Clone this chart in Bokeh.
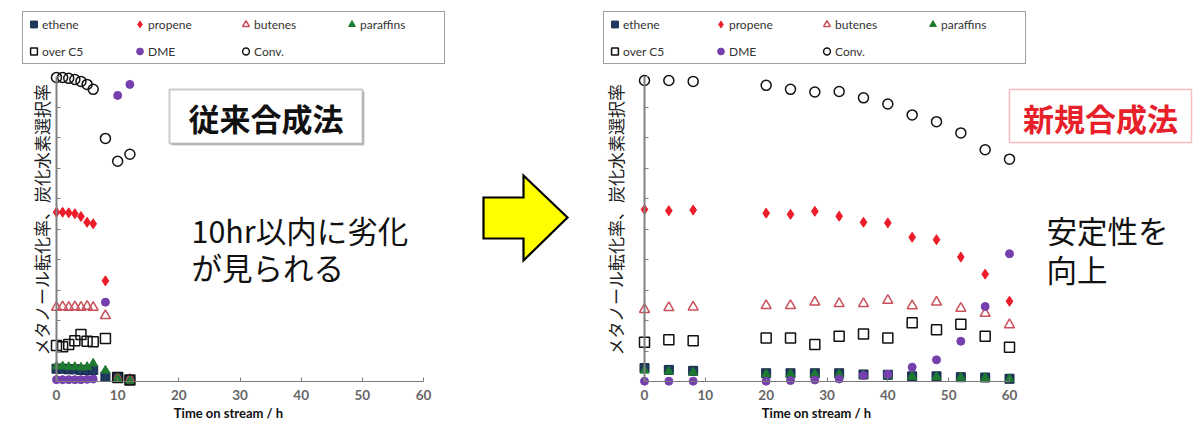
from bokeh.plotting import figure
from bokeh.layouts import row
from bokeh.models import Range1d, FixedTicker, Legend, LegendItem, Label, BoxAnnotation
from bokeh.embed import file_html
from bokeh.resources import INLINE

# ---------------- data ----------------
X_TICKS = [0, 10, 20, 30, 40, 50, 60]
Y_TICKS = [0, 10, 20, 30, 40, 50, 60, 70, 80, 90, 100]
SERIES = ["ethene", "propene", "butenes", "paraffins", "over C5", "DME", "Conv."]

Y_TITLE = "メタノール転化率、炭化水素選択率"
X_TITLE = "Time on stream / h"

# conventional synthesis (left)
old_time = [0, 1, 2, 3, 4, 5, 6, 8, 10, 12]
old_ethene = [4.2, 4.2, 4.0, 4.0, 3.8, 3.8, 3.8, 1.6, 1.3, 0.5]
old_propene = [55.5, 55.5, 55.3, 55.0, 54.1, 52.2, 51.7, 33.0, 1.2, 0.6]
old_butenes = [24.3, 24.5, 24.3, 24.5, 24.3, 24.6, 24.3, 21.6, 1.0, 0.6]
old_paraffins = [5.0, 5.0, 4.8, 4.8, 4.6, 4.8, 5.9, 3.6, 0.9, 0.3]
old_overC5 = [11.8, 11.4, 12.1, 13.4, 15.4, 13.2, 13.0, 14.1, 1.3, 0.5]
old_dme = [0.6, 0.6, 0.6, 0.6, 0.6, 0.7, 0.8, 26.0, 93.8, 97.4]
old_conv = [99.7, 99.7, 99.4, 99.0, 98.4, 97.4, 95.8, 79.7, 72.2, 74.5]

# new synthesis (right)
new_time = [0, 4, 8, 20, 24, 28, 32, 36, 40, 44, 48, 52, 56, 60]
new_ethene = [4.4, 3.8, 3.5, 2.7, 2.7, 2.7, 2.7, 2.3, 2.2, 1.7, 1.7, 1.4, 1.3, 0.9]
new_propene = [56.4, 56.0, 56.2, 55.2, 54.8, 55.8, 54.2, 52.2, 52.0, 47.3, 46.5, 40.8, 35.2, 26.3]
new_butenes = [23.6, 24.2, 24.4, 24.9, 24.9, 26.0, 25.5, 25.5, 26.6, 24.8, 26.0, 24.0, 22.3, 18.6]
new_paraffins = [3.6, 3.3, 3.0, 2.4, 2.4, 2.4, 2.3, 2.0, 2.0, 1.6, 1.5, 1.3, 1.2, 0.8]
new_overC5 = [12.9, 13.7, 13.4, 14.3, 14.3, 12.1, 14.8, 15.6, 14.3, 19.3, 17.0, 18.8, 14.8, 11.2]
new_dme = [0.1, 0.1, 0.1, 0.1, 0.3, 0.5, 0.8, 2.0, 2.4, 4.7, 7.1, 13.2, 24.6, 41.9]
new_conv = [98.7, 98.7, 98.4, 97.1, 95.8, 94.9, 95.1, 93.0, 91.0, 87.4, 85.2, 81.5, 76.0, 72.9]

old_values = [old_ethene, old_propene, old_butenes, old_paraffins, old_overC5, old_dme, old_conv]
new_values = [new_ethene, new_propene, new_butenes, new_paraffins, new_overC5, new_dme, new_conv]

# ---------------- styles ----------------
STYLES = {
    "ethene": dict(marker="square", size=9, fill_color="#1f3a60", line_color="#142845", line_width=1),
    "propene": dict(marker="diamond", size=10, fill_color="#ec1c2a", line_color="#ec1c2a", line_width=1),
    "butenes": dict(marker="triangle", size=10, fill_color=None, line_color="#c9505a", line_width=1.5),
    "paraffins": dict(marker="triangle", size=9, fill_color="#1d7a30", line_color="#1d7a30", line_width=1),
    "over C5": dict(marker="square", size=10, fill_color=None, line_color="#111111", line_width=1.5),
    "DME": dict(marker="circle", size=8, fill_color="#7540ad", line_color="#7540ad", line_width=1),
    "Conv.": dict(marker="circle", size=10, fill_color=None, line_color="#111111", line_width=1.5),
}

H = 430           # canvas height (page has no margin in this template)
TOP_REF = 0
Y0_REF, Y100_REF = 381, 76
FONT_CJK = "Noto Sans CJK JP"
FONT_LAT = "Lato"


def make_panel(t, values, fig_left_ref, width, x0_ref, x60_ref, legend_left_ref, ylabel_x_ref,
               title_box, title_color, title_line_w, title_text, note_lines, note_left_ref, note_ys):
    sx = (x60_ref - x0_ref) / 60.0
    sy = (Y0_REF - Y100_REF) / 100.0

    def fx(rx):
        return (rx - x0_ref) / sx

    def fy(ry):
        return (Y0_REF - ry) / sy

    p = figure(width=width, height=H, output_backend="svg", toolbar_location=None,
               x_range=Range1d(fx(fig_left_ref), fx(fig_left_ref + width)),
               y_range=Range1d(fy(TOP_REF + H), fy(TOP_REF)),
               min_border=0, min_border_left=0, min_border_right=0,
               min_border_top=0, min_border_bottom=0)
    p.outline_line_color = None
    p.grid.visible = False
    p.background_fill_color = "white"

    # axes fixed at the origin
    p.xaxis.fixed_location = 0
    p.xaxis.bounds = (0, 60)
    p.xaxis.ticker = FixedTicker(ticks=X_TICKS)
    p.xaxis.minor_tick_line_color = None
    p.xaxis.major_tick_in = 4
    p.xaxis.major_tick_out = 0
    p.xaxis.axis_line_color = "#7a7a7a"
    p.xaxis.major_tick_line_color = "#7a7a7a"
    p.xaxis.major_label_standoff = 8
    p.xaxis.major_label_text_font = FONT_LAT
    p.xaxis.major_label_text_font_style = "bold"
    p.xaxis.major_label_text_font_size = "13.5px"
    p.xaxis.major_label_text_color = "#666666"

    p.yaxis.fixed_location = 0
    p.yaxis.bounds = (0, 100)
    p.yaxis.ticker = FixedTicker(ticks=Y_TICKS)
    p.yaxis.minor_tick_line_color = None
    p.yaxis.major_tick_in = 4
    p.yaxis.major_tick_out = 0
    p.yaxis.axis_line_color = "#808080"
    p.yaxis.axis_line_width = 2
    p.yaxis.major_tick_line_color = "#808080"
    p.yaxis.major_label_overrides = {v: "" for v in Y_TICKS}

    renderers = []
    for name, vals in zip(SERIES, values):
        r = p.scatter(t, vals, **STYLES[name])
        renderers.append((name, r))

    legend = Legend(items=[LegendItem(label=n, renderers=[r]) for n, r in renderers],
                    orientation="horizontal", ncols=4,
                    location=(legend_left_ref - fig_left_ref, TOP_REF + H - 64),
                    padding=2, spacing=7, glyph_width=17, glyph_height=20,
                    label_standoff=0, label_width=82, label_height=20,
                    label_text_font=FONT_LAT, label_text_font_size="12px",
                    label_text_color="#333333",
                    border_line_color="#404040", border_line_width=1.5,
                    background_fill_color="white", background_fill_alpha=1.0)
    p.add_layout(legend, "center")

    # axis titles
    p.add_layout(Label(x=fx(ylabel_x_ref), y=fy(219), text=Y_TITLE, angle=90, angle_units="deg",
                       text_align="center", text_baseline="middle", text_font=FONT_CJK,
                       text_font_size="17px", text_color="#222222"))
    p.add_layout(Label(x=fx(x0_ref + 172), y=fy(412), text=X_TITLE, text_align="center",
                       text_baseline="middle", text_font=FONT_LAT, text_font_style="bold",
                       text_font_size="13px", text_color="#111111"))

    # title box
    l, r_, tp, bt = title_box
    if title_color == "#111111":
        p.add_layout(BoxAnnotation(left=fx(l + 2), right=fx(r_ + 2), top=fy(tp + 2), bottom=fy(bt + 2),
                                   fill_color="#c8c8c8", fill_alpha=1.0, line_color=None))
    p.add_layout(BoxAnnotation(left=fx(l), right=fx(r_), top=fy(tp), bottom=fy(bt),
                               fill_color="white", fill_alpha=1.0,
                               line_color="#555555" if title_color == "#111111" else title_color,
                               line_width=title_line_w))
    p.add_layout(Label(x=fx((l + r_) / 2), y=fy((tp + bt) / 2 + 1), text=title_text,
                       text_align="center", text_baseline="middle", text_font=FONT_CJK,
                       text_font_style="bold", text_font_size="31px", text_color=title_color))

    # annotation text
    for line, yy in zip(note_lines, note_ys):
        p.add_layout(Label(x=fx(note_left_ref), y=fy(yy), text=line, text_align="left",
                           text_baseline="middle", text_font=FONT_CJK, text_font_size="30.5px",
                           text_color="#111111"))
    return p


left = make_panel(old_time, old_values, fig_left_ref=0, width=470, x0_ref=56, x60_ref=423,
                  legend_left_ref=22, ylabel_x_ref=41, title_box=(169, 362, 89, 143),
                  title_color="#111111", title_line_w=2, title_text="従来合成法",
                  note_lines=["10hr以内に劣化", "が見られる"], note_left_ref=191, note_ys=[229, 266])

right = make_panel(new_time, new_values, fig_left_ref=590, width=610, x0_ref=644, x60_ref=1009,
                   legend_left_ref=603, ylabel_x_ref=615, title_box=(1009, 1191, 89, 142),
                   title_color="#e8202a", title_line_w=1.5, title_text="新規合成法",
                   note_lines=["安定性を", "向上"], note_left_ref=1046, note_ys=[229, 268])

# ---- middle arrow (decoration, drawn in a pixel-space canvas) ----
MID_LEFT_REF, MID_W = 470, 120
mid = figure(width=MID_W, height=H, output_backend="svg", toolbar_location=None,
             x_range=Range1d(0, MID_W), y_range=Range1d(0, H),
             x_axis_type=None, y_axis_type=None, min_border=0)
mid.outline_line_color = None
mid.grid.visible = False
ARROW_REF = [(483, 197), (523, 197), (523, 175), (567, 217), (523, 260), (523, 238), (483, 238)]
mid.patch([ax - MID_LEFT_REF for ax, ay in ARROW_REF], [TOP_REF + H - ay for ax, ay in ARROW_REF],
          fill_color="#ffff00", line_color="#000000", line_width=2.2, line_join="miter")

layout = row(left, mid, right)
open("out.html", "w").write(file_html(layout, INLINE))
